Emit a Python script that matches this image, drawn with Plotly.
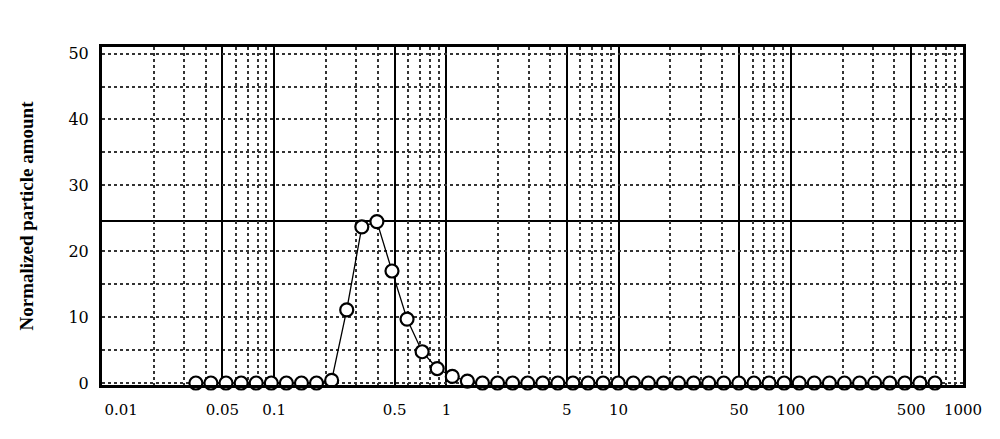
import plotly.graph_objects as go

# particle size bins and normalized amounts
sizes = [0.0351, 0.0429, 0.0525, 0.0643, 0.0786, 0.0962, 0.1177, 0.144, 0.1761, 0.2156,
         0.2637, 0.3227, 0.3948, 0.483, 0.5909, 0.723, 0.8843, 1.082, 1.324, 1.62,
         1.982, 2.424, 2.966, 3.628, 4.439, 5.431, 6.645, 8.13, 9.947, 12.17,
         14.89, 18.22, 22.28, 27.26, 33.36, 40.81, 49.93, 61.09, 74.74, 91.45,
         111.9, 136.9, 167.5, 204.9, 250.7, 306.7, 375.3, 459.1, 561.7, 687.3]
amounts = [0, 0, 0, 0, 0, 0, 0, 0, 0, 0.4,
           11.1, 23.7, 24.5, 17.0, 9.7, 4.75, 2.2, 1.0, 0.3, 0,
           0, 0, 0, 0, 0, 0, 0, 0, 0, 0,
           0, 0, 0, 0, 0, 0, 0, 0, 0, 0,
           0, 0, 0, 0, 0, 0, 0, 0, 0, 0]

x_ticks = [0.01, 0.05, 0.1, 0.5, 1, 5, 10, 50, 100, 500, 1000]
# first label is pushed right of the frame edge, like the original
x_labels = ["\u00a0" * 8 + "0.01", "0.05", "0.1", "0.5", "1", "5", "10", "50", "100", "500", "1000"]
y_ticks = [0, 10, 20, 30, 40, 50]
ref_level = 24.6

# dotted minor grid: 2,3,4,6,7,8,9 in each decade
minor_x = [m * 10 ** e for e in range(-2, 3) for m in (2, 3, 4, 6, 7, 8, 9)]

fig = go.Figure()
fig.add_trace(go.Scatter(
    x=sizes, y=amounts,
    mode="lines+markers",
    line=dict(color="black", width=1.3),
    marker=dict(size=13, color="white", line=dict(color="black", width=2.2)),
    cliponaxis=False,
    showlegend=False,
))

fig.add_hline(y=ref_level, line=dict(color="black", width=2), layer="below")

fig.update_xaxes(
    type="log", range=[-2, 3],
    tickvals=x_ticks, ticktext=x_labels, ticks="",
    showgrid=True, gridcolor="black", gridwidth=2,
    minor=dict(tickvals=minor_x, showgrid=True, gridcolor="#333",
               griddash="dot", gridwidth=1.5, ticks=""),
    showline=True, linecolor="black", linewidth=3, mirror=True,
    ticklabelstandoff=9, zeroline=False,
    tickfont=dict(family="DejaVu Serif", size=15, color="black"),
)
fig.update_yaxes(
    range=[-0.3, 51], tickvals=y_ticks, ticks="",
    showgrid=True, gridcolor="#333", griddash="dot", gridwidth=1.5,
    minor=dict(tickvals=[5, 15, 35, 45], showgrid=True, gridcolor="#333",
               griddash="dot", gridwidth=1.5, ticks=""),
    showline=True, linecolor="black", linewidth=3, mirror=True,
    zeroline=False, ticklabelstandoff=7,
    tickfont=dict(family="DejaVu Serif", size=16, color="black"),
    title=dict(text="<b>Normalized particle amount</b>", standoff=30,
               font=dict(family="Liberation Serif", size=19, color="black")),
)

# page body adds an 8px offset, so the figure is a bit smaller than the window
fig.update_layout(
    width=992, height=431,
    margin=dict(l=94, r=37, t=39, b=54, autoexpand=False),
    plot_bgcolor="white", paper_bgcolor="white",
)

fig.write_html("out.html")
